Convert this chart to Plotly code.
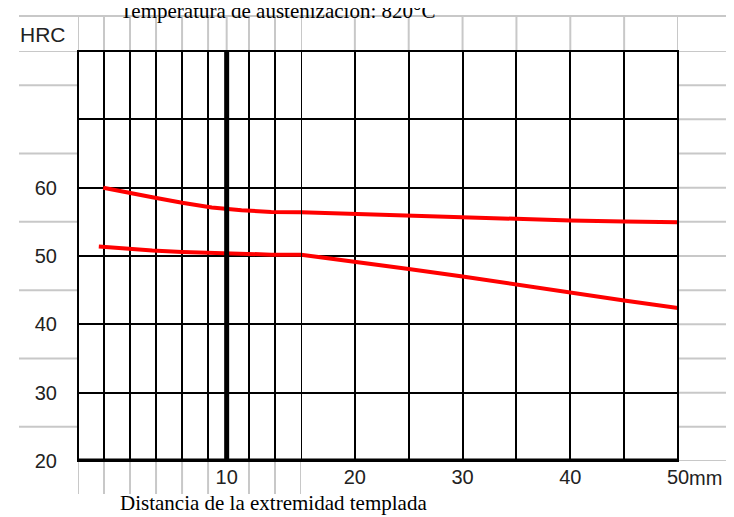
import plotly.graph_objects as go

# ---------------- data ----------------
upper_mm = [1.7, 3, 5, 7, 9, 11, 13, 15, 20, 25, 30, 35, 40, 45, 50]
upper_hrc = [60.0, 59.4, 58.6, 57.8, 57.1, 56.7, 56.45, 56.4, 56.15, 55.9, 55.7, 55.4, 55.2, 55.05, 54.95]

lower_mm = [1.4, 3, 5, 7, 9, 11, 13, 15, 20, 25, 30, 35, 40, 45, 50]
lower_hrc = [51.4, 51.1, 50.8, 50.6, 50.45, 50.25, 50.2, 50.2, 49.2, 48.1, 47.0, 45.8, 44.6, 43.5, 42.4]

# axis grid / tick definitions
seg1_grid = [1.75, 3.5, 5.25, 7, 8.75, 10, 11.5, 13.25]
seg1_text = ["", "", "", "", "", "10", "", ""]
seg2_ticks = [20, 25, 30, 35, 40, 45, 50]
seg2_text = ["20", "", "30", "", "40", "", "50"]
y_ticks = [20, 30, 40, 50, 60, 70, 80]
y_text = ["20", "30", "40", "50", "60", "", ""]

title_text = "Temperatura de austenización: 820°C"
xlabel_text = "Distancia de la extremidad templada"

BREAK = 15  # scale changes at 15 mm

# ---------------- layout geometry ----------------
W, H = 734, 517
ML, MR, MT, MB = 70, 64, 43, 64
PW, PH = W - ML - MR, H - MT - MB
d1 = 223 / PW  # domain split of the two x scales

def px_x(p):  # page x -> paper
    return (p - ML) / PW

def px_y(p):  # page y -> paper
    return (H - MB - p) / PH

RED = "#ff0000"
GRAY = "#c8c8c8"
TICKFONT = dict(family="Liberation Sans, Arial, sans-serif", size=20, color="#222222")
SERIF = dict(family="Liberation Serif, Times New Roman, serif", size=20, color="black")

fig = go.Figure()

def add_curve(xs, ys):
    a = [(x, y) for x, y in zip(xs, ys) if x <= BREAK]
    b = [(x, y) for x, y in zip(xs, ys) if x >= BREAK]
    fig.add_trace(go.Scatter(x=[p[0] for p in a], y=[p[1] for p in a], mode="lines",
                             line=dict(color=RED, width=4), xaxis="x", yaxis="y",
                             showlegend=False, hoverinfo="skip"))
    fig.add_trace(go.Scatter(x=[p[0] for p in b], y=[p[1] for p in b], mode="lines",
                             line=dict(color=RED, width=4), xaxis="x2", yaxis="y",
                             showlegend=False, hoverinfo="skip"))

add_curve(upper_mm, upper_hrc)
add_curve(lower_mm, lower_hrc)

shapes = []
# gray background table lines outside the plot
shapes.append(dict(type="line", xref="paper", yref="paper", x0=px_x(11), x1=px_x(734),
                   y0=px_y(8), y1=px_y(8), line=dict(color=GRAY, width=2)))
for v in [25, 35, 45, 55, 65, 75, 80]:
    shapes.append(dict(type="line", xref="paper", yref="y", x0=px_x(11), x1=0,
                       y0=v, y1=v, line=dict(color=GRAY, width=2)))
for v in range(20, 81, 5):
    shapes.append(dict(type="line", xref="paper", yref="y", x0=1, x1=px_x(734),
                       y0=v, y1=v, line=dict(color=GRAY, width=2)))
for v in [0] + seg1_grid:
    shapes.append(dict(type="line", xref="x", yref="paper", x0=v, x1=v,
                       y0=1, y1=px_y(8), line=dict(color=GRAY, width=2)))
for v in [BREAK] + seg2_ticks:
    shapes.append(dict(type="line", xref="x2", yref="paper", x0=v, x1=v,
                       y0=1, y1=px_y(8), line=dict(color=GRAY, width=2)))
for v in [0] + [g for g in seg1_grid if g != 10] + [BREAK]:
    shapes.append(dict(type="line", xref="x", yref="paper", x0=v, x1=v,
                       y0=0, y1=px_y(486), line=dict(color=GRAY, width=2)))

# black frame, break line, thick 10 mm line and thick base line
shapes.append(dict(type="line", xref="x2", yref="paper", x0=BREAK, x1=BREAK, y0=0, y1=1,
                   line=dict(color="black", width=2)))
shapes.append(dict(type="rect", xref="paper", yref="paper", x0=0, x1=1, y0=0, y1=1,
                   line=dict(color="black", width=2)))
shapes.append(dict(type="line", xref="x", yref="paper", x0=10, x1=10, y0=0, y1=1,
                   line=dict(color="black", width=5)))
shapes.append(dict(type="line", xref="paper", yref="y", x0=0, x1=1, y0=20, y1=20,
                   line=dict(color="black", width=5)))

annotations = [
    dict(text=title_text, xref="paper", yref="paper", x=px_x(110), y=px_y(3),
         xanchor="left", yanchor="middle", showarrow=False,
         font=dict(SERIF, size=21)),
    dict(text=xlabel_text, xref="paper", yref="paper", x=px_x(110), y=px_y(495),
         xanchor="left", yanchor="middle", showarrow=False,
         font=dict(SERIF, size=21)),
    dict(text="HRC", xref="paper", yref="paper", x=px_x(10), y=px_y(27),
         xanchor="left", yanchor="middle", showarrow=False,
         font=dict(TICKFONT, size=21)),
    dict(text="mm", xref="x2", yref="paper", x=50, y=px_y(470), xshift=9,
         xanchor="left", yanchor="middle", showarrow=False, font=TICKFONT),
]

fig.update_layout(
    width=W, height=H,
    margin=dict(l=ML, r=MR, t=MT, b=MB, pad=0),
    paper_bgcolor="white", plot_bgcolor="white",
    showlegend=False,
    xaxis=dict(domain=[0, d1], range=[0, BREAK], tickmode="array", tickvals=seg1_grid,
               ticktext=seg1_text, showgrid=True, gridcolor="black", gridwidth=2,
               zeroline=False, showline=False, ticks="", tickfont=TICKFONT,
               ticklabelstandoff=2, anchor="y", fixedrange=True),
    xaxis2=dict(domain=[d1, 1], range=[BREAK, 50], tickmode="array", tickvals=seg2_ticks,
                ticktext=seg2_text, showgrid=True, gridcolor="black", gridwidth=2,
                zeroline=False, showline=False, ticks="", tickfont=TICKFONT,
                ticklabelstandoff=2, anchor="y", fixedrange=True),
    yaxis=dict(range=[20, 80], tickmode="array", tickvals=y_ticks, ticktext=y_text,
               showgrid=True, gridcolor="black", gridwidth=2, zeroline=False,
               showline=False, ticks="", tickfont=TICKFONT, ticklabelstandoff=20,
               fixedrange=True),
    shapes=shapes,
    annotations=annotations,
)

fig.write_html("out.html")
